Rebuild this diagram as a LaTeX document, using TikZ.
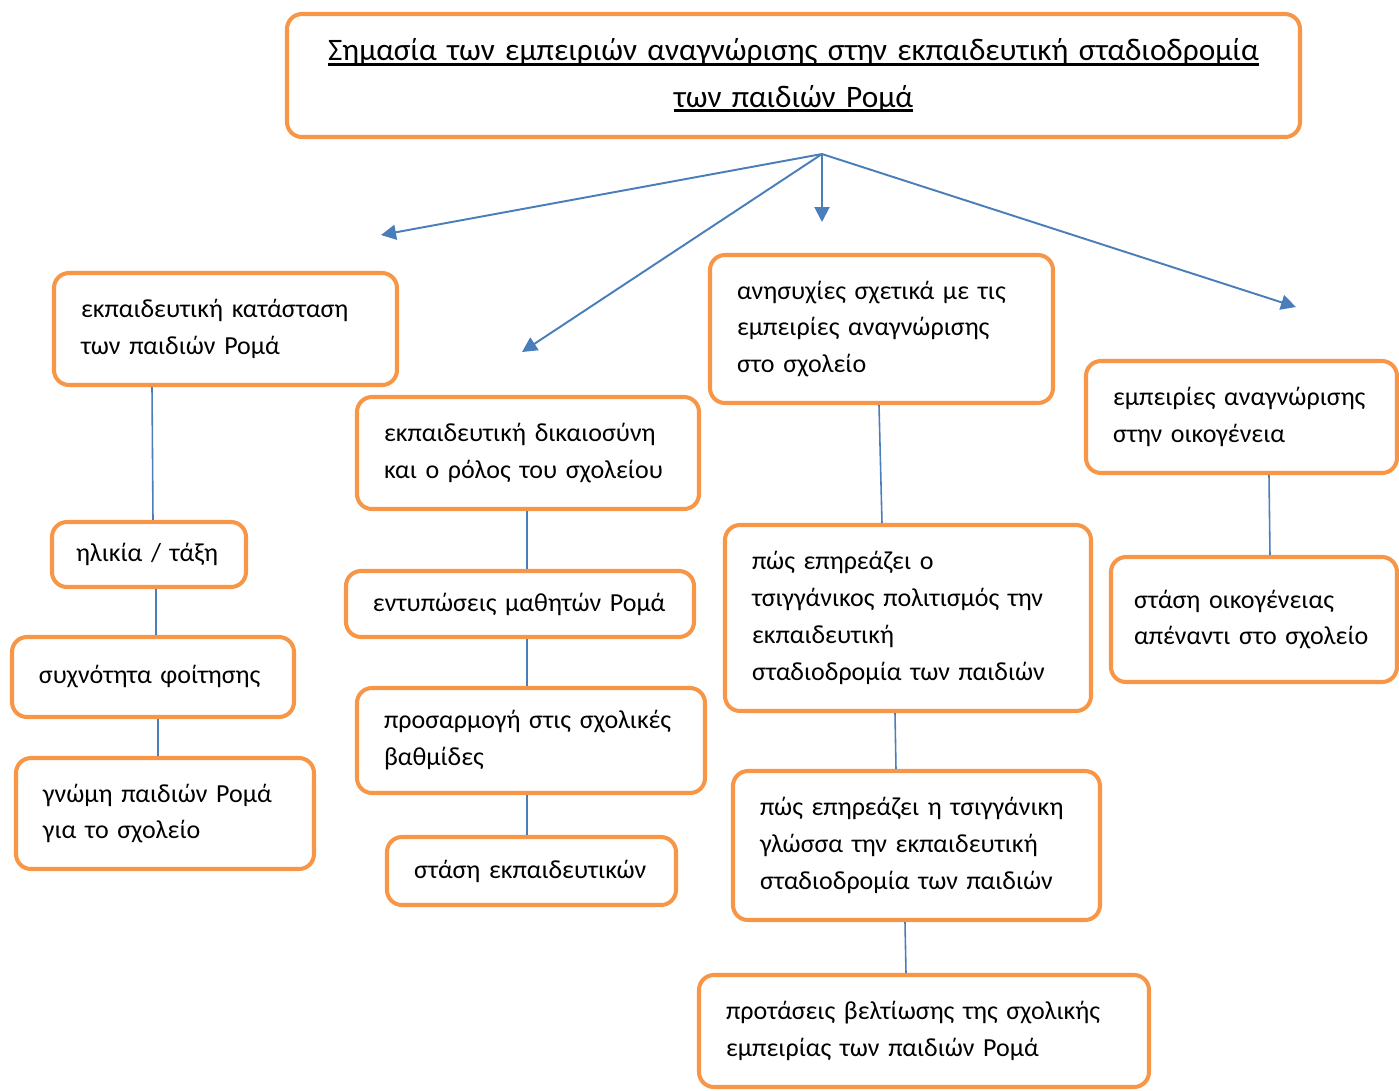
\documentclass[tikz,border=0pt]{standalone}
\usepackage{fontspec}
\setmainfont{Carlito}
\usepackage{tikz}
\usetikzlibrary{arrows.meta}
\usepackage{xcolor}
\definecolor{portokali}{HTML}{F79646}
\definecolor{mple}{HTML}{4A7EBB}
\newcommand{\ypogr}[1]{\leavevmode\hbox{\sbox0{#1}\rlap{\rule[-1.3pt]{\wd0}{0.6pt}}\usebox0}}

\begin{document}
\begin{tikzpicture}[
  kouti/.style={draw=portokali, line width=1.15pt, rounded corners=0.15cm, fill=white,
    inner xsep=0.27cm, inner ysep=0pt, align=left,
    font=\fontsize{7.4}{10.5}\selectfont},
  grammi/.style={mple, line width=0.45pt},
  velos/.style={mple, line width=0.55pt, -{Triangle[length=1.5mm,width=1.5mm]}}]
\useasboundingbox (0,0) rectangle (13.99,-10.9);
\clip (0,0) rectangle (13.99,-10.9);

% titlos
\node [kouti, align=center, minimum width=10.13cm, minimum height=1.23cm, text width=9.59cm,
  font=\fontsize{8.9}{13.1}\selectfont] (titlos) at (7.935,-0.755)
  {\ypogr{Σημασία των εμπειριών αναγνώρισης στην εκπαιδευτική σταδιοδρομία}\\
   \ypogr{των παιδιών Ρομά}};

\coordinate (koryfi) at (8.22,-1.54);
\coordinate (pros1) at (3.81,-2.35);
\coordinate (pros2) at (5.22,-3.52);
\coordinate (pros3) at (8.22,-2.22);
\coordinate (pros4) at (12.96,-3.07);
\draw [velos] (koryfi) -- (pros1);
\draw [velos] (koryfi) -- (pros2);
\draw [velos] (koryfi) -- (pros3);
\draw [velos] (koryfi) -- (pros4);

% aristera
\node [kouti, minimum height=1.12cm, text width=2.89cm] (katastasi) at (2.255,-3.29)
  {εκπαιδευτική κατάσταση\\των παιδιών Ρομά};
\node [kouti, minimum height=0.65cm, text width=1.46cm, inner xsep=0.24cm] (ilikia) at (1.49,-5.545)
  {ηλικία / τάξη};
\node [kouti, minimum height=0.80cm, text width=2.28cm] (syxnotita) at (1.53,-6.77)
  {συχνότητα φοίτησης};
\node [kouti, minimum height=1.11cm, text width=2.44cm] (gnomi) at (1.65,-8.135)
  {γνώμη παιδιών Ρομά\\για το σχολείο};
\draw [grammi] ([xshift=-7.35mm]katastasi.south) -- ([xshift=0.4mm]ilikia.north);
\draw [grammi] ([xshift=0.7mm]ilikia.south) -- ([xshift=0.3mm]syxnotita.north);
\draw [grammi] ([xshift=0.5mm]syxnotita.south) -- ([xshift=-0.7mm]gnomi.north);

% mesi
\node [kouti, minimum height=1.12cm, text width=2.88cm] (dikaiosyni) at (5.28,-4.53)
  {εκπαιδευτική δικαιοσύνη\\και ο ρόλος του σχολείου};
\node [kouti, minimum height=0.66cm, text width=2.94cm] (entyposeis) at (5.20,-6.04)
  {εντυπώσεις μαθητών Ρομά};
\node [kouti, minimum height=1.05cm, text width=2.94cm] (prosarmogi) at (5.31,-7.405)
  {προσαρμογή στις σχολικές\\βαθμίδες};
\node [kouti, minimum height=0.68cm, text width=2.35cm] (ekpaideftikoi) at (5.315,-8.71)
  {στάση εκπαιδευτικών};
\draw [grammi] ([xshift=-0.1mm]dikaiosyni.south) -- ([xshift=0.7mm]entyposeis.north);
\draw [grammi] ([xshift=0.7mm]entyposeis.south) -- ([xshift=-0.4mm]prosarmogi.north);
\draw [grammi] ([xshift=-0.4mm]prosarmogi.south) -- ([xshift=-0.45mm]ekpaideftikoi.north);

% dexia mesi
\node [kouti, minimum height=1.48cm, text width=2.89cm] (anisyxies) at (8.815,-3.29)
  {ανησυχίες σχετικά με τις\\εμπειρίες αναγνώρισης\\στο σχολείο};
\node [kouti, minimum height=1.86cm, text width=3.12cm] (politismos) at (9.08,-6.18)
  {πώς επηρεάζει ο\\τσιγγάνικος πολιτισμός την\\εκπαιδευτική\\σταδιοδρομία των παιδιών};
\node [kouti, minimum height=1.49cm, text width=3.13cm] (glossa) at (9.165,-8.455)
  {πώς επηρεάζει η τσιγγάνικη\\γλώσσα την εκπαιδευτική\\σταδιοδρομία των παιδιών};
\node [kouti, minimum height=1.12cm, text width=3.96cm] (protaseis) at (9.24,-10.31)
  {προτάσεις βελτίωσης της σχολικής\\εμπειρίας των παιδιών Ρομά};
\draw [grammi] ([xshift=-0.25mm]anisyxies.south) -- ([xshift=-2.6mm]politismos.north);
\draw [grammi] ([xshift=-1.3mm]politismos.south) -- ([xshift=-2.05mm]glossa.north);
\draw [grammi] ([xshift=-1.15mm]glossa.south) -- ([xshift=-1.8mm]protaseis.north);

% dexia
\node [kouti, minimum height=1.12cm, text width=2.57cm] (oikogeneia) at (12.415,-4.17)
  {εμπειρίες αναγνώρισης\\στην οικογένεια};
\node [kouti, minimum height=1.25cm, text width=2.40cm, inner xsep=0.23cm] (stasioikog) at (12.54,-6.195)
  {στάση οικογένειας\\απέναντι στο σχολείο};
\draw [grammi] ([xshift=2.75mm]oikogeneia.south) -- ([xshift=1.6mm]stasioikog.north);

\end{tikzpicture}
\end{document}
